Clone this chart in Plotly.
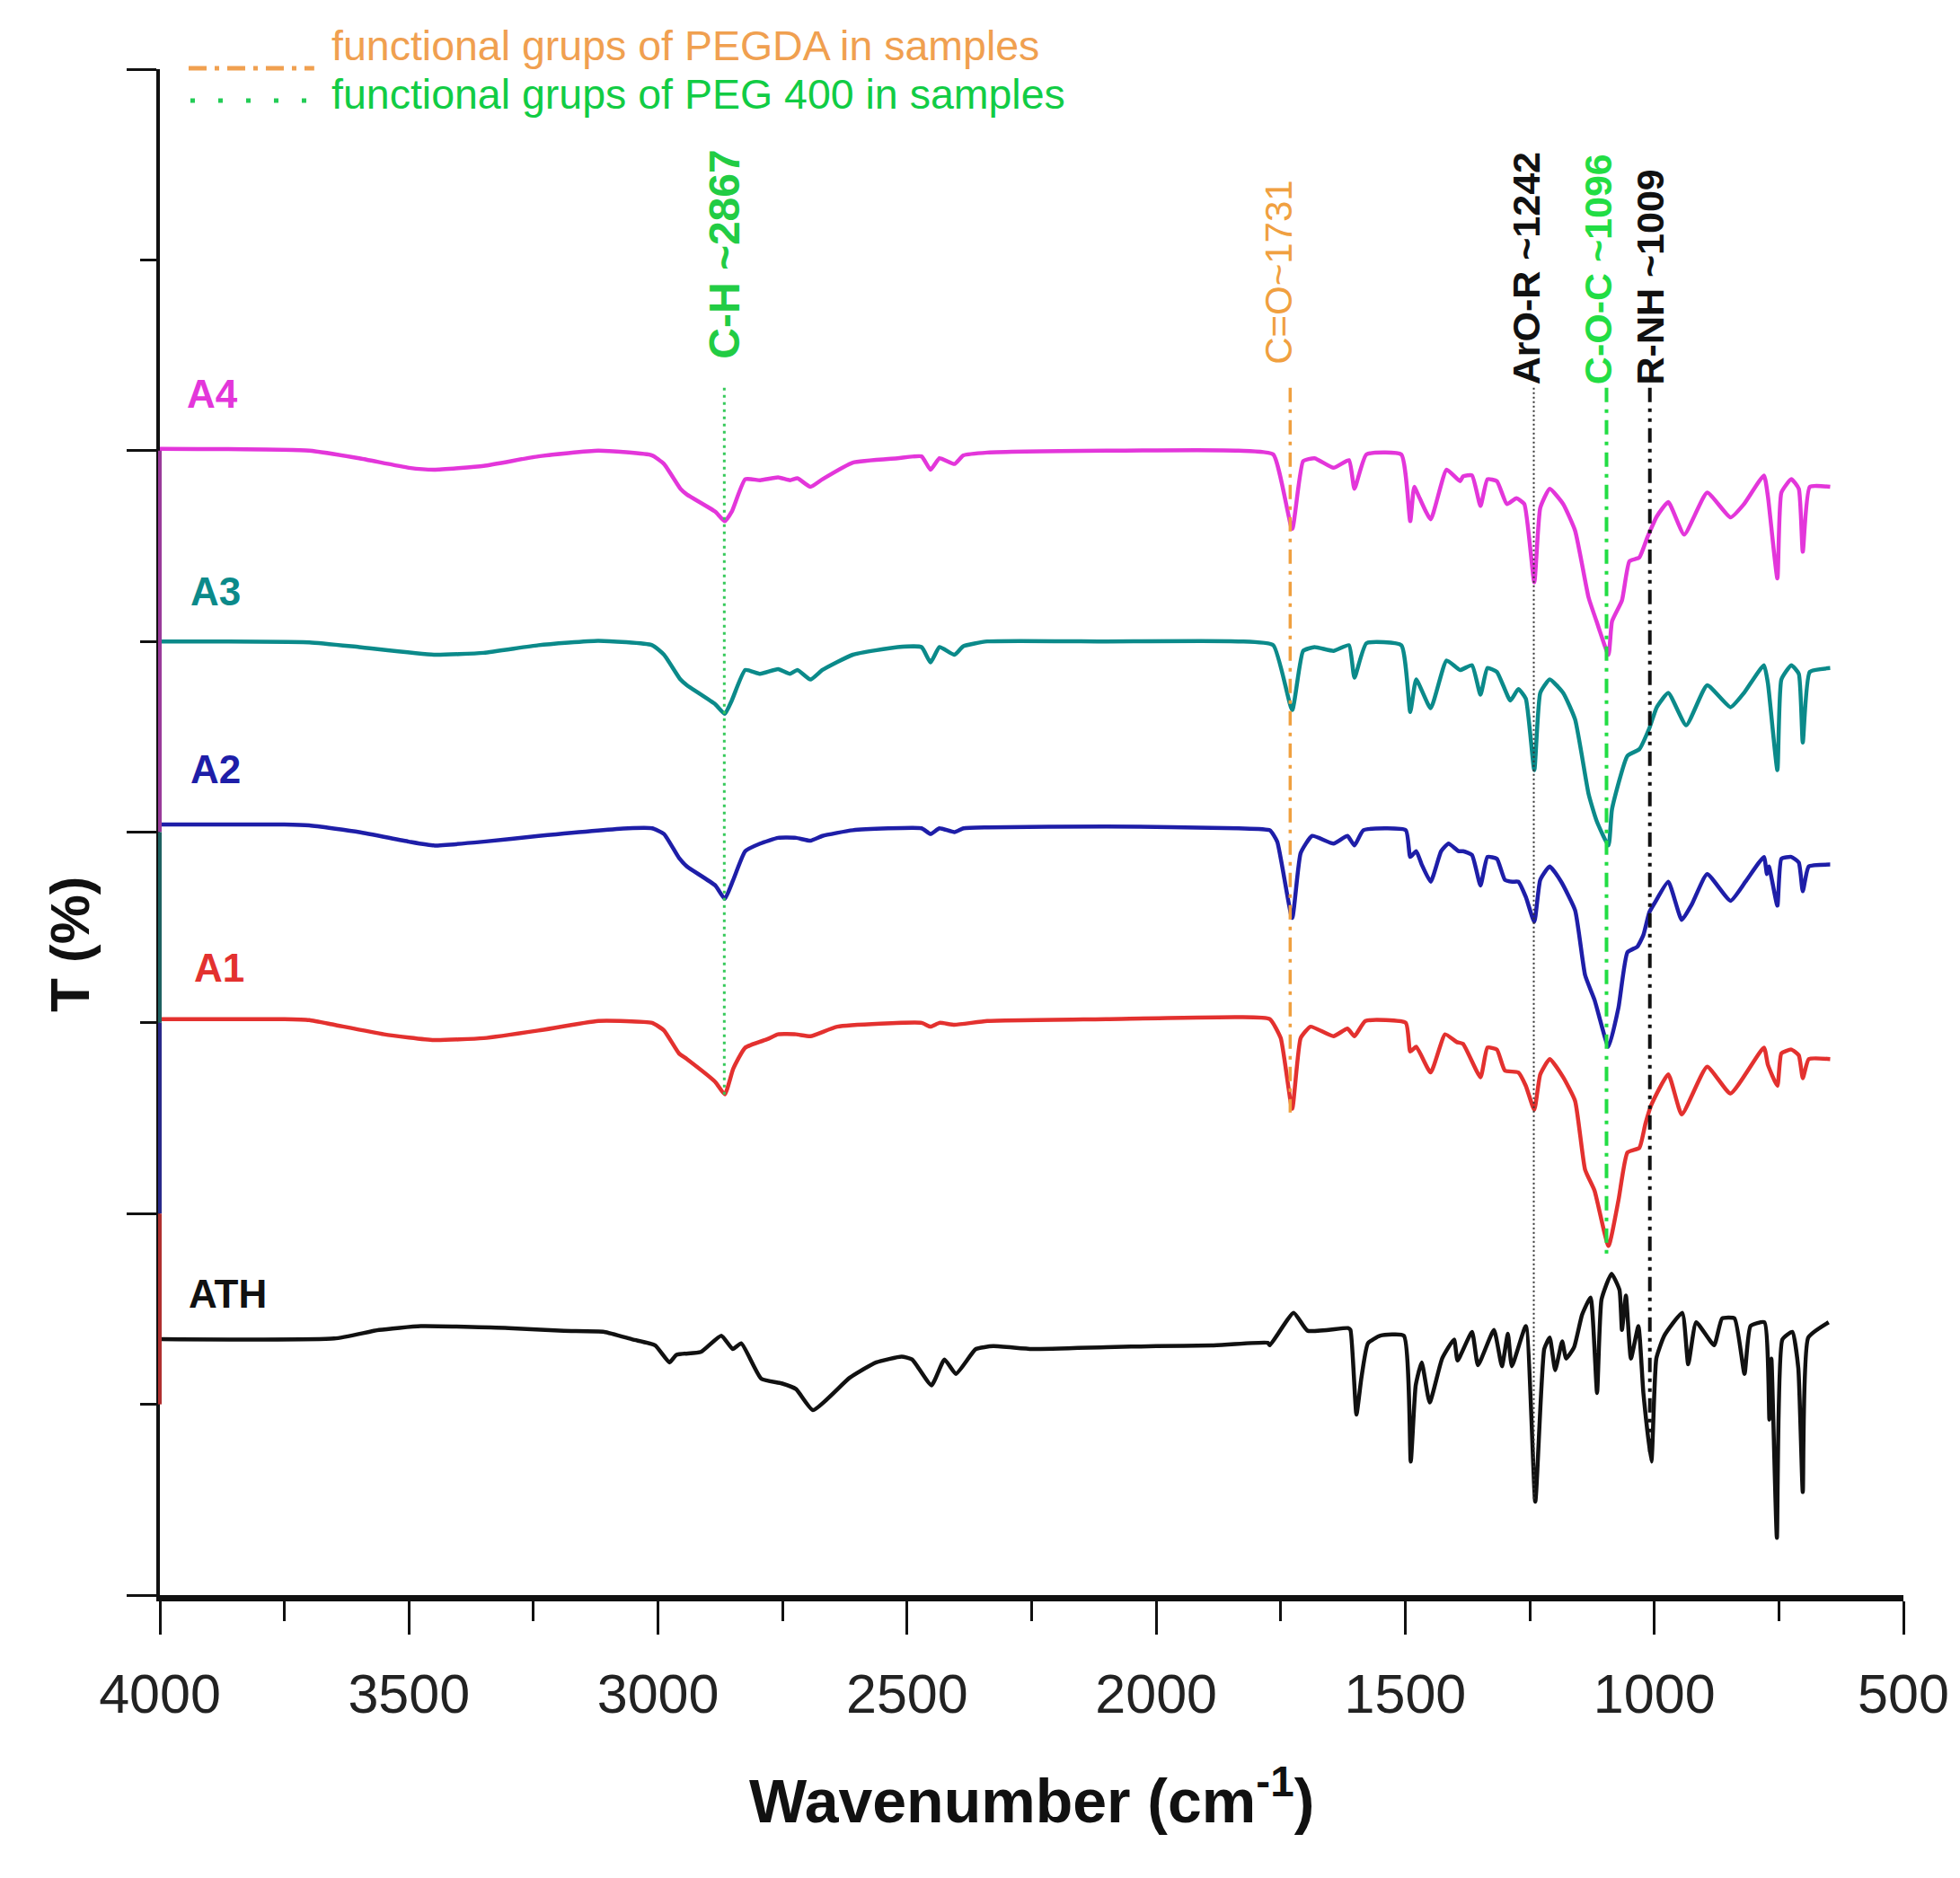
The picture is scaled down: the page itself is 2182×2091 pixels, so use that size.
import plotly.graph_objects as go

# ---------------- data ----------------
ATH_WN = [4000, 3650, 3560, 3476, 3300, 3189, 3108, 3051, 3006, 2977, 2963, 2914, 2873, 2850, 2833,
          2793, 2752, 2723, 2689, 2615, 2562, 2511, 2490, 2451, 2425, 2402, 2362, 2327, 2249, 2100,
          2000, 1889, 1776, 1772, 1724, 1696, 1615, 1610, 1598, 1588, 1575, 1550, 1503, 1489, 1479,
          1467, 1451, 1426, 1402, 1395, 1366, 1354, 1322, 1306, 1294, 1286, 1258, 1239, 1221, 1210,
          1199, 1185, 1177, 1161, 1145, 1128, 1115, 1106, 1086, 1070, 1065, 1057, 1047, 1032, 1022,
          1006, 996, 980, 944, 932, 916, 880, 864, 839, 819, 807, 779, 769, 765, 754, 743, 723, 711,
          702, 691, 650]
ATH_T = [1.342, 1.345, 1.39, 1.41, 1.40, 1.385, 1.38, 1.34, 1.31, 1.22, 1.26, 1.275, 1.36, 1.29, 1.32,
         1.135, 1.11, 1.08, 0.97, 1.14, 1.22, 1.25, 1.235, 1.10, 1.235, 1.16, 1.29, 1.305, 1.29, 1.30,
         1.305, 1.309, 1.323, 1.31, 1.48, 1.386, 1.40, 1.39, 0.946, 1.14, 1.32, 1.36, 1.36, 0.70, 1.10,
         1.22, 1.01, 1.24, 1.34, 1.23, 1.38, 1.205, 1.39, 1.20, 1.37, 1.20, 1.41, 0.49, 1.29, 1.35,
         1.18, 1.33, 1.24, 1.30, 1.47, 1.56, 1.06, 1.55, 1.685, 1.60, 1.39, 1.57, 1.24, 1.41, 1.06,
         0.70, 1.24, 1.36, 1.48, 1.21, 1.43, 1.31, 1.45, 1.45, 1.16, 1.41, 1.43, 0.92, 1.24, 0.30,
         1.34, 1.38, 1.19, 0.54, 1.35, 1.43]

A1_WN = [4000, 3750, 3700, 3650, 3550, 3450, 3350, 3240, 3120, 3012, 2988, 2958, 2942, 2885, 2866,
         2849, 2825, 2780, 2759, 2723, 2694, 2640, 2471, 2453, 2435, 2405, 2339, 2100, 1835, 1772,
         1750, 1727, 1710, 1690, 1644, 1616, 1602, 1580, 1499, 1490, 1478, 1449, 1420, 1397, 1384,
         1349, 1335, 1316, 1300, 1273, 1258, 1241, 1229, 1210, 1183, 1159, 1139, 1120, 1092, 1072,
         1054, 1030, 1018, 1006, 972, 945, 894, 847, 780, 772, 753, 745, 725, 710, 702, 690, 647]
A1_T = [3.02, 3.02, 3.015, 2.99, 2.94, 2.91, 2.92, 2.96, 3.01, 3.0, 2.96, 2.84, 2.81, 2.69, 2.625,
        2.76, 2.87, 2.915, 2.94, 2.94, 2.93, 2.98, 3.0, 2.98, 3.0, 2.99, 3.01, 3.02, 3.03, 3.02,
        2.92, 2.55, 2.92, 2.98, 2.93, 2.97, 2.93, 3.01, 3.0, 2.85, 2.875, 2.74, 2.94, 2.90, 2.89,
        2.715, 2.87, 2.86, 2.75, 2.74, 2.67, 2.545, 2.73, 2.81, 2.715, 2.59, 2.23, 2.12, 1.83, 2.07,
        2.32, 2.345, 2.47, 2.57, 2.73, 2.52, 2.77, 2.63, 2.87, 2.78, 2.67, 2.84, 2.86, 2.83, 2.71,
        2.81, 2.81]

A2_WN = [4000, 3750, 3700, 3600, 3500, 3450, 3350, 3240, 3060, 3012, 2988, 2958, 2942, 2885, 2866,
         2849, 2825, 2795, 2759, 2723, 2694, 2670, 2609, 2471, 2453, 2435, 2405, 2387, 2339, 2100,
         1835, 1772, 1757, 1727, 1710, 1687, 1644, 1616, 1602, 1584, 1499, 1490, 1478, 1467, 1449,
         1428, 1413, 1393, 1384, 1366, 1349, 1335, 1316, 1300, 1285, 1273, 1258, 1241, 1229, 1210,
         1187, 1159, 1139, 1120, 1092, 1072, 1054, 1034, 1022, 1010, 999, 972, 945, 925, 894, 847,
         817, 780, 774, 770, 753, 745, 725, 710, 702, 690, 647]
A2_T = [4.04, 4.04, 4.035, 4.0, 3.95, 3.93, 3.95, 3.98, 4.02, 4.02, 3.99, 3.865, 3.82, 3.72, 3.65,
        3.75, 3.90, 3.94, 3.97, 3.97, 3.955, 3.98, 4.01, 4.02, 3.99, 4.02, 4.0, 4.02, 4.025, 4.03,
        4.02, 4.01, 3.95, 3.55, 3.89, 3.98, 3.94, 3.98, 3.93, 4.01, 4.01, 3.87, 3.90, 3.83, 3.74,
        3.90, 3.94, 3.90, 3.90, 3.88, 3.72, 3.87, 3.86, 3.75, 3.74, 3.74, 3.66, 3.53, 3.75, 3.82,
        3.74, 3.59, 3.25, 3.12, 2.875, 3.08, 3.37, 3.40, 3.46, 3.58, 3.63, 3.74, 3.54, 3.62, 3.78,
        3.64, 3.74, 3.87, 3.78, 3.82, 3.615, 3.86, 3.87, 3.84, 3.69, 3.82, 3.83]

A3_WN = [4000, 3700, 3600, 3450, 3350, 3240, 3120, 3012, 2988, 2955, 2942, 2885, 2866, 2852, 2825,
         2795, 2759, 2735, 2720, 2694, 2670, 2609, 2519, 2471, 2453, 2435, 2405, 2387, 2339, 2100,
         1835, 1765, 1727, 1705, 1682, 1644, 1613, 1602, 1578, 1508, 1490, 1478, 1449, 1417, 1390,
         1366, 1349, 1335, 1316, 1289, 1273, 1258, 1241, 1229, 1210, 1183, 1159, 1132, 1116, 1092,
         1085, 1054, 1030, 1010, 995, 972, 936, 894, 847, 820, 780, 772, 753, 745, 725, 710, 702,
         688, 647]
A3_T = [5.0, 4.995, 4.97, 4.93, 4.94, 4.98, 5.003, 4.98, 4.93, 4.80, 4.77, 4.67, 4.62, 4.69, 4.85,
        4.83, 4.855, 4.83, 4.85, 4.80, 4.85, 4.93, 4.97, 4.97, 4.89, 4.97, 4.93, 4.975, 5.0, 5.0,
        5.0, 4.98, 4.64, 4.95, 4.97, 4.95, 4.98, 4.81, 4.99, 4.98, 4.63, 4.80, 4.65, 4.90, 4.85,
        4.875, 4.72, 4.86, 4.84, 4.69, 4.75, 4.70, 4.325, 4.73, 4.80, 4.73, 4.59, 4.20, 4.06, 3.93,
        4.12, 4.40, 4.435, 4.545, 4.655, 4.73, 4.56, 4.77, 4.655, 4.73, 4.875, 4.78, 4.325, 4.80,
        4.875, 4.83, 4.47, 4.84, 4.86]

A4_WN = [4000, 3700, 3600, 3500, 3450, 3350, 3240, 3120, 3012, 2988, 2955, 2942, 2885, 2866, 2852,
         2825, 2795, 2759, 2735, 2720, 2694, 2670, 2609, 2519, 2471, 2453, 2435, 2405, 2387, 2339,
         2100, 1835, 1765, 1727, 1705, 1682, 1644, 1613, 1602, 1578, 1508, 1490, 1482, 1471, 1449,
         1417, 1390, 1384, 1366, 1349, 1335, 1316, 1296, 1277, 1261, 1241, 1229, 1210, 1183, 1159,
         1132, 1116, 1092, 1085, 1065, 1050, 1030, 1014, 995, 972, 940, 894, 847, 820, 780, 772,
         753, 745, 725, 710, 702, 688, 647]
A4_T = [6.01, 6.0, 5.96, 5.91, 5.90, 5.92, 5.97, 6.0, 5.975, 5.93, 5.80, 5.77, 5.68, 5.63, 5.68,
        5.85, 5.845, 5.86, 5.845, 5.855, 5.81, 5.85, 5.937, 5.96, 5.97, 5.90, 5.96, 5.93, 5.975, 5.99,
        6.0, 6.0, 5.98, 5.59, 5.945, 5.96, 5.91, 5.95, 5.80, 5.98, 5.98, 5.63, 5.81, 5.75, 5.64,
        5.90, 5.84, 5.865, 5.87, 5.71, 5.85, 5.84, 5.72, 5.75, 5.72, 5.31, 5.70, 5.80, 5.72, 5.58,
        5.23, 5.105, 4.93, 5.105, 5.215, 5.42, 5.44, 5.545, 5.655, 5.73, 5.56, 5.78, 5.65, 5.72,
        5.87, 5.76, 5.33, 5.78, 5.85, 5.80, 5.47, 5.81, 5.81]

SERIES_NAMES = ["ATH", "A1", "A2", "A3", "A4"]
SERIES_COLORS = ["#111111", "#E3312F", "#1E1EA8", "#0B8A8A", "#E336DA"]

PEAK_WN = [2867, 1731, 1242, 1096, 1009]
PEAK_LABELS = ["C-H ~2867", "C=O~1731", "ArO-R ~1242", "C-O-C ~1096", "R-NH ~1009"]
PEAK_BOTTOM = [2.61, 2.53, 0.49, 1.79, 0.75]
PEAK_TOP = 6.33

X_TICKS = [4000, 3500, 3000, 2500, 2000, 1500, 1000, 500]

# ---------------- figure ----------------
W, H = 2182, 2091
ML, MR, MT, MB = 178, 61, 77, 315
PW, PH = W - ML - MR, H - MT - MB
FONT = "Liberation Sans, Arial, sans-serif"

def px2paper_x(px):
    return (px - ML) / PW

def px2paper_y(py):
    return (H - MB - py) / PH

fig = go.Figure()

spectra = [(ATH_WN, ATH_T), (A1_WN, A1_T), (A2_WN, A2_T), (A3_WN, A3_T), (A4_WN, A4_T)]
for (wn, t), name, col in zip(spectra, SERIES_NAMES, SERIES_COLORS):
    fig.add_trace(go.Scatter(x=wn, y=t, mode="lines", name=name,
                             line=dict(color=col, width=4.5, shape="spline", smoothing=0.45),
                             showlegend=False, hoverinfo="skip"))

peak_styles = [
    dict(color="#35C95A", width=3, dash="3px,5px"),
    dict(color="#F0A040", width=3.5, dash="16px,8px,4px,8px"),
    dict(color="#333333", width=2, dash="2px,3px"),
    dict(color="#22DD44", width=4, dash="16px,8px,4px,8px"),
    dict(color="#111111", width=4, dash="16px,7px,4px,7px,4px,7px"),
]
for wn, yb, st in zip(PEAK_WN, PEAK_BOTTOM, peak_styles):
    fig.add_trace(go.Scatter(x=[wn, wn], y=[PEAK_TOP, yb], mode="lines",
                             line=st, showlegend=False, hoverinfo="skip"))

annotations = []
# peak labels
peak_label_x = [2867, 1754, 1258, 1114, 1008]
peak_label_y = [6.47, 6.44, 6.337, 6.337, 6.337]
peak_label_col = ["#22CC44", "#F0A040", "#111111", "#22DD44", "#111111"]
peak_label_size = [48, 42, 43, 43, 43]
peak_label_bold = [True, False, True, True, True]
for lab, x, y, c, s, b in zip(PEAK_LABELS, peak_label_x, peak_label_y, peak_label_col,
                              peak_label_size, peak_label_bold):
    annotations.append(dict(x=x, y=y, xref="x", yref="y", text=f"<b>{lab}</b>" if b else lab,
                            textangle=-90, showarrow=False, xanchor="center", yanchor="bottom",
                            font=dict(family=FONT, size=s, color=c)))

# series labels
lab_x = [3863, 3881, 3888, 3888, 3894]
lab_y = [1.58, 3.29, 4.33, 5.26, 6.30]
for name, col, x, y in zip(SERIES_NAMES, SERIES_COLORS, lab_x, lab_y):
    annotations.append(dict(x=x, y=y, xref="x", yref="y", text=f"<b>{name}</b>", showarrow=False,
                            xanchor="center", yanchor="middle",
                            font=dict(family=FONT, size=44, color=col)))

# legend texts
annotations.append(dict(x=px2paper_x(367), y=px2paper_y(51), xref="paper", yref="paper",
                        text="functional grups of PEGDA in samples", showarrow=False,
                        xanchor="left", yanchor="middle",
                        font=dict(family=FONT, size=46.5, color="#F0A050")))
annotations.append(dict(x=px2paper_x(367), y=px2paper_y(105), xref="paper", yref="paper",
                        text="functional grups of PEG 400 in samples", showarrow=False,
                        xanchor="left", yanchor="middle",
                        font=dict(family=FONT, size=46.5, color="#11CC44")))

# axis titles
annotations.append(dict(x=0.5, y=px2paper_y(2000), xref="paper", yref="paper",
                        text="<b>Wavenumber (cm<sup>-1</sup>)</b>", showarrow=False,
                        xanchor="center", yanchor="middle",
                        font=dict(family=FONT, size=68, color="#111111")))
annotations.append(dict(x=px2paper_x(77), y=px2paper_y(1051), xref="paper", yref="paper",
                        text="<b>T (%)</b>", textangle=-90, showarrow=False,
                        xanchor="center", yanchor="middle",
                        font=dict(family=FONT, size=62, color="#111111")))

shapes = []
# legend line samples
shapes.append(dict(type="line", xref="paper", yref="paper",
                   x0=px2paper_x(210), x1=px2paper_x(350), y0=px2paper_y(76), y1=px2paper_y(76),
                   line=dict(color="#F0A050", width=5, dash="20px,9px,5px,9px")))
shapes.append(dict(type="line", xref="paper", yref="paper",
                   x0=px2paper_x(212), x1=px2paper_x(350), y0=px2paper_y(112), y1=px2paper_y(112),
                   line=dict(color="#22CC55", width=5, dash="5px,26px")))
# coloured segments along the left axis
seg_cols = ["#9A3A9A", "#1F6262", "#2A2A8A", "#B03030"]
seg_ranges = [(6, 4), (4, 3), (3, 2), (2, 1)]
for c, (a, b) in zip(seg_cols, seg_ranges):
    shapes.append(dict(type="line", xref="paper", yref="y", x0=0, x1=0, y0=a, y1=b,
                       line=dict(color=c, width=4), layer="above"))

fig.update_layout(
    width=W, height=H, autosize=False,
    margin=dict(l=ML, r=MR, t=MT, b=MB, pad=0),
    paper_bgcolor="white", plot_bgcolor="white",
    annotations=annotations, shapes=shapes,
    showlegend=False,
    font=dict(family=FONT, color="#111111"),
)
fig.update_xaxes(range=[4000, 500], tickvals=X_TICKS, ticktext=[str(v) for v in X_TICKS],
                 showgrid=False, zeroline=False, showline=True, linecolor="#111111", linewidth=7,
                 ticks="outside", ticklen=37, tickwidth=3, tickcolor="#111111",
                 tickfont=dict(family=FONT, size=61, color="#222222"),
                 ticklabelstandoff=14,
                 minor=dict(dtick=250, ticks="outside", ticklen=22, tickwidth=3, tickcolor="#111111",
                            showgrid=False))
fig.update_yaxes(range=[0, 8], tickvals=[0, 2, 4, 6, 8], showticklabels=False,
                 showgrid=False, zeroline=False, showline=True, linecolor="#111111", linewidth=4,
                 ticks="outside", ticklen=33, tickwidth=3, tickcolor="#111111",
                 minor=dict(dtick=1, ticks="outside", ticklen=18, tickwidth=3, tickcolor="#111111",
                            showgrid=False))

fig.write_html("out.html", config={"displayModeBar": False},
               post_script="document.body.style.margin='0';")
